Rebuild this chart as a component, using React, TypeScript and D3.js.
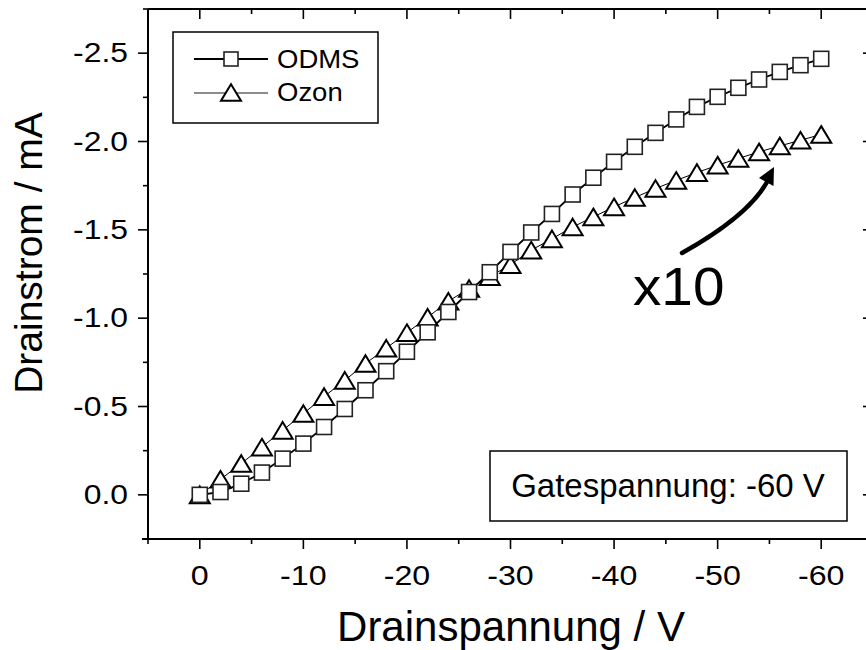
import React from "react";
import * as d3 from "d3";

// Drain voltage (V)
const drainVoltage = [0, -2, -4, -6, -8, -10, -12, -14, -16, -18, -20, -22, -24, -26, -28, -30, -32, -34, -36, -38, -40, -42, -44, -46, -48, -50, -52, -54, -56, -58, -60];
// Drain current (mA), ODMS
const odmsCurrent = [0, -0.016, -0.063, -0.126, -0.205, -0.29, -0.384, -0.486, -0.592, -0.70, -0.81, -0.92, -1.035, -1.148, -1.26, -1.375, -1.485, -1.59, -1.70, -1.795, -1.885, -1.97, -2.049, -2.125, -2.196, -2.253, -2.304, -2.351, -2.394, -2.432, -2.468];
// Drain current (mA), Ozon (x10)
const ozonCurrent = [0, -0.088, -0.177, -0.27, -0.365, -0.46, -0.556, -0.648, -0.743, -0.83, -0.918, -1.005, -1.096, -1.168, -1.235, -1.303, -1.385, -1.449, -1.516, -1.573, -1.63, -1.683, -1.734, -1.78, -1.824, -1.866, -1.904, -1.941, -1.975, -2.007, -2.04];

const xMajorTicks = [0, -10, -20, -30, -40, -50, -60];
const xMajorLabels = ["0", "-10", "-20", "-30", "-40", "-50", "-60"];
const xMinorTicks = [5, -5, -15, -25, -35, -45, -55, -65];
const yMajorTicks = [0, -0.5, -1.0, -1.5, -2.0, -2.5];
const yMajorLabels = ["0.0", "-0.5", "-1.0", "-1.5", "-2.0", "-2.5"];
const yMinorTicks = [0.25, -0.25, -0.75, -1.25, -1.75, -2.25, -2.75];

const seriesNames = ["ODMS", "Ozon"];
const xTitle = "Drainspannung / V";
const yTitle = "Drainstrom / mA";
const boxText = "Gatespannung: -60 V";
const factorText = "x10";

const FONT = "Arial, 'Liberation Sans', Helvetica, sans-serif";

const tri = "M0,-8.3 L10,8.3 L-10,8.3 Z";

export default function App() {
  const x = d3.scaleLinear().domain([5, -65]).range([148, 873]);
  const y = d3.scaleLinear().domain([0.25, -2.75]).range([539, 9]);
  const left = x(5), right = x(-65), top = y(-2.75), bottom = y(0.25);

  const odms = drainVoltage.map((v, i) => [v, odmsCurrent[i]] as [number, number]);
  const ozon = drainVoltage.map((v, i) => [v, ozonCurrent[i]] as [number, number]);
  const line = d3.line<[number, number]>().x((d) => x(d[0])).y((d) => y(d[1]));

  return (
    <svg width={866} height={650} style={{ position: "absolute", left: 0, top: 0, background: "#fff" }} fontFamily={FONT}>
      <rect x={0} y={0} width={866} height={650} fill="#fff" />

      {/* Ozon series */}
      <path d={line(ozon) || ""} fill="none" stroke="#000" strokeWidth={1} />
      {ozon.map((d, i) => (
        <path key={"t" + i} d={tri} transform={`translate(${x(d[0])},${y(d[1])})`} fill="#fff" stroke="#000" strokeWidth={2} strokeLinejoin="miter" />
      ))}

      {/* ODMS series */}
      <path d={line(odms) || ""} fill="none" stroke="#000" strokeWidth={1.8} />
      {odms.map((d, i) => (
        <rect key={"s" + i} x={x(d[0]) - 7.5} y={y(d[1]) - 7.5} width={15} height={15} fill="#fff" stroke="#222" strokeWidth={1.6} />
      ))}

      {/* frame */}
      <line x1={left - 6} x2={right} y1={bottom} y2={bottom} stroke="#000" strokeWidth={2} />
      <line x1={left} x2={right} y1={top} y2={top} stroke="#000" strokeWidth={2} />
      <line x1={left} x2={left} y1={top} y2={bottom + 1} stroke="#000" strokeWidth={2} />
      <line x1={right} x2={right} y1={top} y2={bottom} stroke="#000" strokeWidth={2} />

      {/* x ticks */}
      {xMajorTicks.map((t) => (
        <g key={"xm" + t}>
          <line x1={x(t)} x2={x(t)} y1={bottom} y2={bottom + 10} stroke="#000" strokeWidth={1.6} />
          <line x1={x(t)} x2={x(t)} y1={top} y2={top + 10} stroke="#000" strokeWidth={1.6} />
        </g>
      ))}
      {xMinorTicks.map((t) => (
        <g key={"xn" + t}>
          <line x1={x(t)} x2={x(t)} y1={bottom} y2={bottom + 5} stroke="#000" strokeWidth={1.6} />
          <line x1={x(t)} x2={x(t)} y1={top} y2={top + 5} stroke="#000" strokeWidth={1.6} />
        </g>
      ))}
      {xMajorTicks.map((t, i) => (
        <text key={"xl" + t} transform={`translate(${x(t)},585) scale(1.15,1)`} textAnchor="middle" fontSize={28} fill="#000">
          {xMajorLabels[i]}
        </text>
      ))}

      {/* y ticks */}
      {yMajorTicks.map((t) => (
        <g key={"ym" + t}>
          <line x1={left - 10} x2={left} y1={y(t)} y2={y(t)} stroke="#000" strokeWidth={1.6} />
          <line x1={right - 10} x2={right} y1={y(t)} y2={y(t)} stroke="#000" strokeWidth={1.6} />
        </g>
      ))}
      {yMinorTicks.map((t) => (
        <g key={"yn" + t}>
          <line x1={left - 5} x2={left} y1={y(t)} y2={y(t)} stroke="#000" strokeWidth={1.6} />
          <line x1={right - 5} x2={right} y1={y(t)} y2={y(t)} stroke="#000" strokeWidth={1.6} />
        </g>
      ))}
      {yMajorLabels.map((lab, i) => (
        <text key={"yl" + lab} transform={`translate(128,${y(yMajorTicks[i]) + 9})scale(1.18,1)`} textAnchor="end" fontSize={27} fill="#000">
          {lab}
        </text>
      ))}

      {/* axis titles */}
      <text x={511} y={641} textAnchor="middle" fontSize={42} fill="#000">{xTitle}</text>
      <text transform="translate(42,253) rotate(-90)" textAnchor="middle" fontSize={39} fill="#000">{yTitle}</text>

      {/* legend */}
      <rect x={173} y={32} width={205} height={91} fill="#fff" stroke="#000" strokeWidth={1.5} />
      <line x1={194} x2={268} y1={59} y2={59} stroke="#000" strokeWidth={1.8} />
      <rect x={224} y={52} width={14} height={14} fill="#fff" stroke="#222" strokeWidth={1.6} />
      <text transform="translate(277,68) scale(1.1,1)" fontSize={25} fill="#000">{seriesNames[0]}</text>
      <line x1={194} x2={268} y1={93} y2={93} stroke="#666" strokeWidth={1.3} />
      <path d={tri} transform="translate(231,92.5)" fill="#fff" stroke="#000" strokeWidth={2} />
      <text transform="translate(277,101) scale(1.1,1)" fontSize={25} fill="#000">{seriesNames[1]}</text>

      {/* gate voltage box */}
      <rect x={490} y={451} width={357} height={70} fill="#fff" stroke="#000" strokeWidth={1.5} />
      <text transform="translate(668,497) scale(1.0,1)" textAnchor="middle" fontSize={33} fill="#000">{boxText}</text>

      {/* x10 annotation with arrow */}
      <text transform="translate(633,305) scale(1.07,1)" fontSize={53} fill="#000">{factorText}</text>
      <path d="M682,253 Q748,216 767,182" fill="none" stroke="#000" strokeWidth={4.5} strokeLinecap="round" />
      <polygon points="774,167 773.5,186 759,178" fill="#000" />
    </svg>
  );
}
